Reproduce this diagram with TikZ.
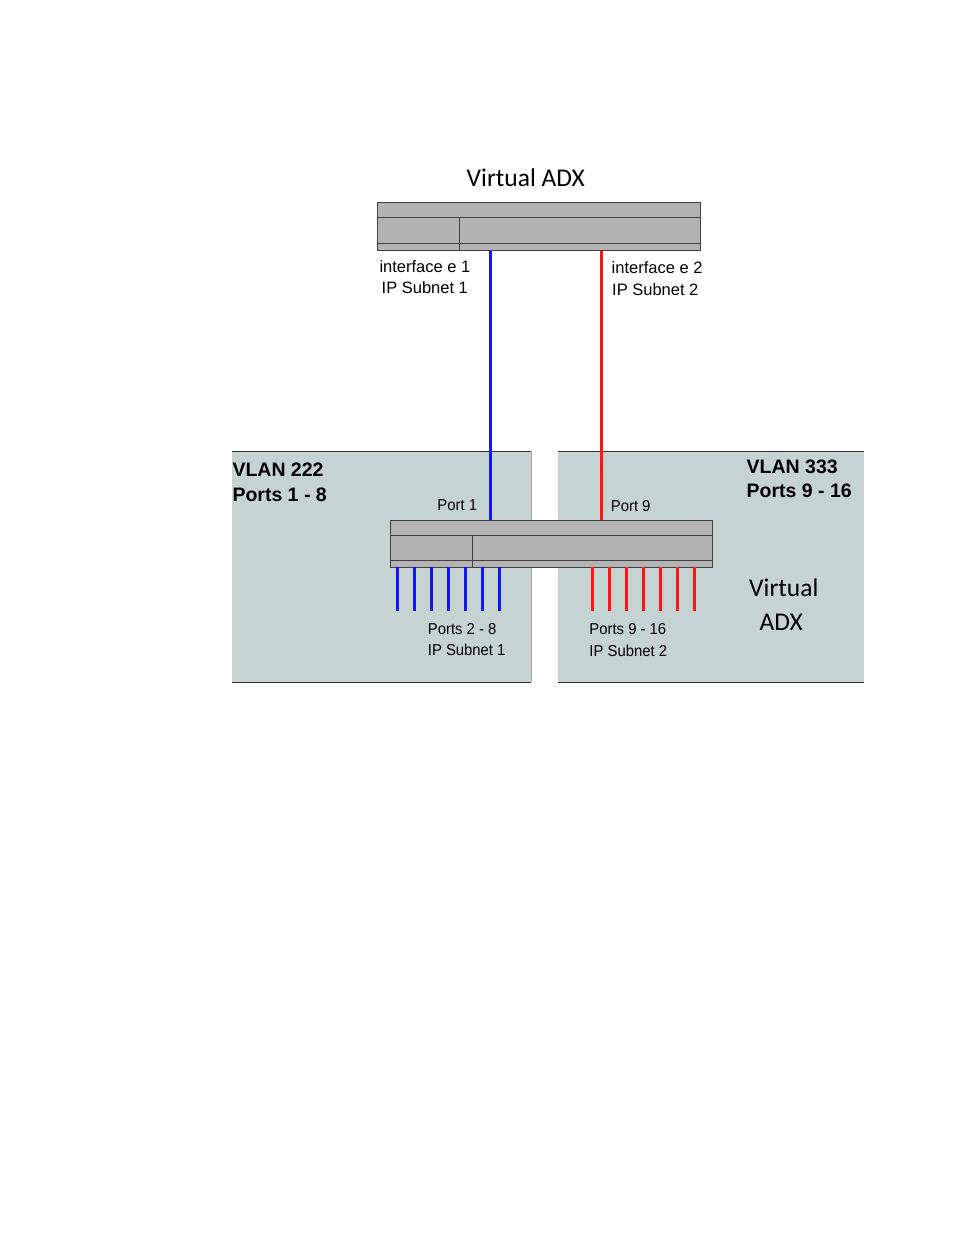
\documentclass[tikz,border=0pt]{standalone}
\usepackage{fontspec}
\setmainfont{Liberation Sans}
\newfontfamily\calibfont{Carlito}
\usetikzlibrary{positioning}
\definecolor{swgray}{RGB}{179,179,179}
\definecolor{swedge}{RGB}{64,64,64}
\definecolor{vlanfill}{RGB}{197,211,211}
\definecolor{linkblue}{RGB}{20,20,255}
\definecolor{linkred}{RGB}{255,20,20}

\begin{document}
\begin{tikzpicture}[x=1pt,y=-1pt,
  swbox/.style={draw=swedge,fill=swgray,line width=0.9,inner sep=0,anchor=north west},
  swline/.style={swedge,line width=0.9},
  vlanbox/.style={fill=vlanfill,inner sep=0,anchor=north west},
  vlanedge/.style={black!80,line width=0.9},
  lbl/.style={inner sep=0,anchor=base west,font=\fontsize{16.5}{18}\selectfont},
  portlbl/.style={inner sep=0,anchor=base west,xscale=0.94,font=\fontsize{15.8}{18}\selectfont},
  vlanlbl/.style={inner sep=0,anchor=base west,font=\fontsize{19.5}{22}\selectfont\bfseries},
  adxlbl/.style={inner sep=0,anchor=base west,font=\fontsize{25.5}{28}\selectfont\calibfont},
  bluelink/.style={linkblue,line width=3},
  redlink/.style={linkred,line width=3},
  blueport/.style={linkblue,line width=3.5},
  redport/.style={linkred,line width=3.5}]
\useasboundingbox (0,0) rectangle (954,1235);
% vlan areas
\node[vlanbox,minimum width=299,minimum height=231] (vlan222) at (232,451) {};
\node[vlanbox,minimum width=306,minimum height=231] (vlan333) at (558,451) {};
\draw[vlanedge] (vlan222.north west) -- (vlan222.north east);
\draw[vlanedge] (vlan222.south west) -- (vlan222.south east);
\draw[gray!70,line width=0.6] (vlan222.north east) -- (vlan222.south east);
\draw[vlanedge] (vlan333.north west) -- (vlan333.north east);
\draw[vlanedge] (vlan333.south west) -- (vlan333.south east);
% top adx
\node[adxlbl] (title) at (466.5,186.5) {Virtual ADX};
\node[swbox,minimum width=323,minimum height=48] (adx1) at (377,202) {};
\draw[swline] (377,217.7) -- (700,217.7);
\draw[swline] (377,243.3) -- (700,243.3);
\draw[swline] (459.3,217.7) -- (459.3,250);
% bottom adx
\node[swbox,minimum width=322,minimum height=47] (adx2) at (389.5,519.5) {};
\draw[swline] (389.5,535) -- (712.5,535);
\draw[swline] (389.5,560.7) -- (712.5,560.7);
\draw[swline] (472.3,535) -- (472.3,566.5);
% links
\coordinate (e1) at (490.7,0);
\coordinate (e2) at (601,0);
\draw[bluelink] (adx1.south -| e1) -- (adx2.north -| e1);
\draw[redlink] (adx1.south -| e2) -- (adx2.north -| e2);
% port stubs
\foreach \i in {0,...,6} \draw[blueport] (397.3+17*\i,566.5) -- ++(0,44);
\foreach \i in {0,...,6} \draw[redport] (592.7+17*\i,566.5) -- ++(0,44);
% labels
\node[lbl] (if1) at (379.3,272.5) {interface e 1};
\node[lbl] (sub1) at (381.5,293) {IP Subnet 1};
\node[lbl] (if2) at (611.5,273.5) {interface e 2};
\node[lbl] (sub2) at (612,295) {IP Subnet 2};
\node[vlanlbl] (v222) at (232.3,476.7) {VLAN 222};
\node[vlanlbl] (p222) at (232.3,501.7) {Ports 1 - 8};
\node[vlanlbl] (v333) at (746.5,473.3) {VLAN 333};
\node[vlanlbl] (p333) at (746.5,497.7) {Ports 9 - 16};
\node[portlbl] (port1) at (437.3,510) {Port 1};
\node[portlbl] (port9) at (610.7,511.7) {Port 9};
\node[portlbl] (ports28) at (427.7,634) {Ports 2 - 8};
\node[portlbl] (psub1) at (427.7,655.7) {IP Subnet 1};
\node[portlbl] (ports916) at (589.3,634.3) {Ports 9 - 16};
\node[portlbl] (psub2) at (589.3,656) {IP Subnet 2};
\node[adxlbl] (virt) at (749,596.7) {Virtual};
\node[adxlbl] (adx) at (759.3,630) {ADX};
\end{tikzpicture}
\end{document}
